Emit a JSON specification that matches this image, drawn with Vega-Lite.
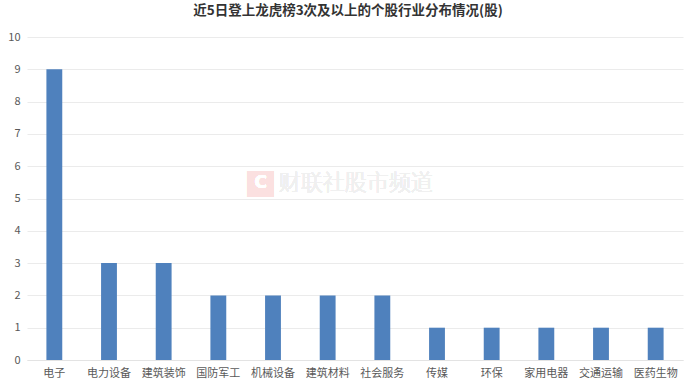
{
  "$schema": "https://vega.github.io/schema/vega-lite/v6.json",
  "width": 656,
  "height": 323,
  "autosize": {"type": "none"},
  "padding": {"left": 27, "top": 37, "right": 9, "bottom": 28},
  "background": "white",
  "title": {
    "text": "近5日登上龙虎榜3次及以上的个股行业分布情况(股)",
    "font": "Noto Sans CJK SC",
    "fontSize": 13.5,
    "fontWeight": "bold",
    "color": "#333333",
    "anchor": "middle",
    "frame": "group",
    "offset": 14,
    "dx": -7
  },
  "config": {
    "view": {"stroke": null},
    "font": "Noto Sans CJK SC"
  },
  "data": {
    "values": [
      {"industry": "电子", "count": 9},
      {"industry": "电力设备", "count": 3},
      {"industry": "建筑装饰", "count": 3},
      {"industry": "国防军工", "count": 2},
      {"industry": "机械设备", "count": 2},
      {"industry": "建筑材料", "count": 2},
      {"industry": "社会服务", "count": 2},
      {"industry": "传媒", "count": 1},
      {"industry": "环保", "count": 1},
      {"industry": "家用电器", "count": 1},
      {"industry": "交通运输", "count": 1},
      {"industry": "医药生物", "count": 1}
    ]
  },
  "encoding": {
    "x": {
      "field": "industry",
      "type": "nominal",
      "sort": null,
      "scale": {
        "domain": ["电子", "电力设备", "建筑装饰", "国防军工", "机械设备", "建筑材料", "社会服务", "传媒", "环保", "家用电器", "交通运输", "医药生物"],
        "paddingInner": 0.71,
        "paddingOuter": 0.355
      },
      "axis": {
        "title": null,
        "labelAngle": 0,
        "labelFontSize": 11,
        "labelColor": "#595959",
        "labelPadding": 7,
        "labelOverlap": false,
        "ticks": false,
        "domain": true,
        "domainColor": "#e3e3e3",
        "grid": false
      }
    }
  },
  "layer": [
    {
      "mark": {"type": "bar", "color": "#4f81bd"},
      "encoding": {
        "y": {
          "field": "count",
          "type": "quantitative",
          "scale": {"domain": [0, 10]},
          "axis": {
            "title": null,
            "values": [0, 1, 2, 3, 4, 5, 6, 7, 8, 9, 10],
            "labelFontSize": 11,
            "labelColor": "#595959",
            "labelPadding": 7,
            "labelOverlap": false,
            "ticks": false,
            "domain": false,
            "grid": true,
            "gridColor": "#ebebeb",
            "gridWidth": 1
          }
        }
      }
    },
    {
      "mark": {"type": "text", "text": "财联社股市频道", "fontSize": 22, "fontWeight": 300, "color": "#f0f0f0", "baseline": "middle", "align": "center", "dx": 28, "dy": -16},
      "encoding": {
        "x": {"datum": "建筑材料", "type": "nominal"}
      }
    },
    {
      "mark": {"type": "text", "text": "■", "fontSize": 34, "color": "#fbe0e0", "baseline": "middle", "align": "center", "dx": -67, "dy": -16, "font": "DejaVu Sans"},
      "encoding": {
        "x": {"datum": "建筑材料", "type": "nominal"}
      }
    },
    {
      "mark": {"type": "text", "text": "C", "fontSize": 17, "fontWeight": "bold", "color": "#ffffff", "baseline": "middle", "align": "center", "dx": -67, "dy": -16, "font": "DejaVu Sans"},
      "encoding": {
        "x": {"datum": "建筑材料", "type": "nominal"}
      }
    }
  ]
}
